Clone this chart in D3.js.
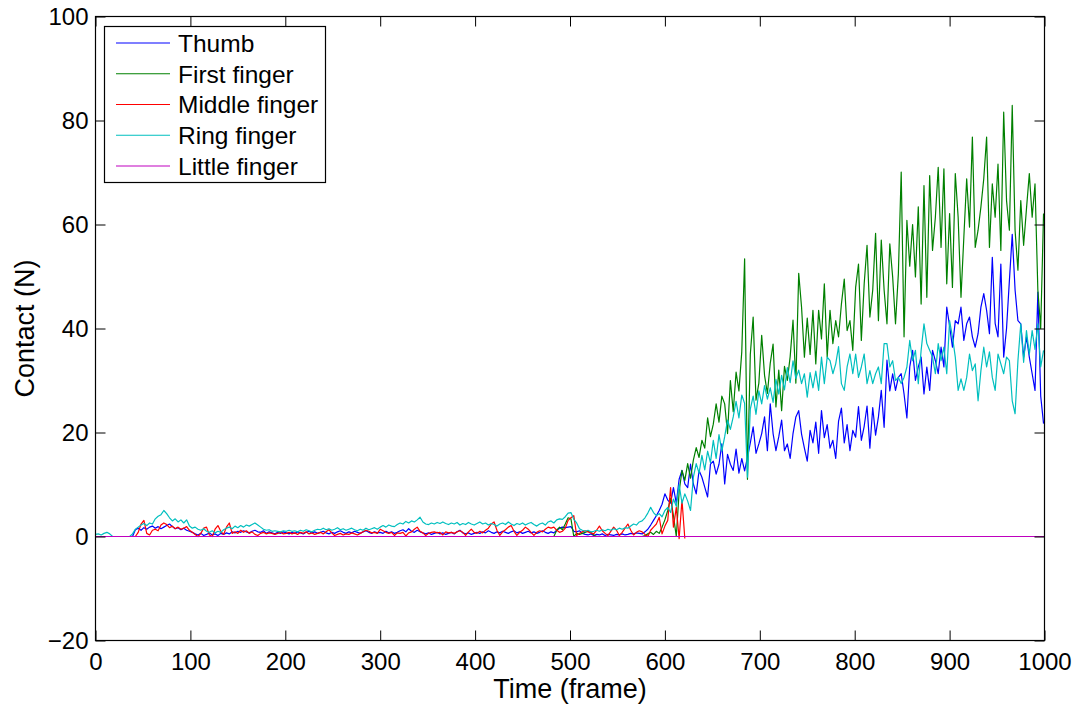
<!DOCTYPE html>
<html>
<head>
<meta charset="utf-8">
<script src="https://cdn.jsdelivr.net/npm/d3@7"></script>
<style>
  html, body { margin: 0; padding: 0; background: #fff; }
  svg { display: block; font-family: "Liberation Sans", Arial, Helvetica, sans-serif; }
</style>
</head>
<body>
<svg id="chart" width="1076" height="704"></svg>
<script>
// Contact force per finger, sampled every 3 frames.
const frameStep = 3;

const xTickValues = [0, 100, 200, 300, 400, 500, 600, 700, 800, 900, 1000];
const yTickValues = [-20, 0, 20, 40, 60, 80, 100];

const seriesNames = ["Thumb", "First finger", "Middle finger", "Ring finger", "Little finger"];
const seriesColors = ["#0000ff", "#008000", "#ff0000", "#00bfbf", "#bf00bf"];

// Thumb: frames 39 .. 999
const thumbStart = 39;
const thumb = [
  0,
  1.3, 1.6, 1.2, 1.7, 1.4, 1.8, 2.0, 1.6, 1.9, 1.5, 1.8, 2.1, 2.4, 1.9, 1.5, 1.7, 1.3, 1.6, 1.2, 1.0,
  0.8, 0.5, 0.3, 0.6, 0.2, 0.4, 0.7, 0.3, 0.5, 0.2, 0.6, 0.4, 0.7, 0.5, 0.9, 0.7, 1.0, 0.8, 1.1, 0.9,
  0.7, 1.0, 1.2, 0.9, 0.8, 1.1, 0.6, 0.9, 0.7, 0.5, 0.8, 0.6, 0.9,
  0.7, 0.5, 0.8, 0.6, 0.9, 0.7, 0.5, 0.8, 1.0, 0.7, 0.9, 0.6, 0.8, 1.0, 0.7, 0.5, 0.8, 0.6, 0.9, 1.1,
  0.8, 0.6, 0.9, 0.7, 1.0, 0.8, 0.6, 0.9, 1.1, 0.8, 0.6, 0.9, 0.7,
  0.8, 0.6, 1.0, 0.7, 0.9, 0.6, 0.8, 1.1, 1.3, 0.9, 1.5, 1.0, 0.8, 1.2, 0.9, 0.7, 0.5, 0.7, 0.4, 0.6,
  0.8, 0.5, 0.7, 0.4, 0.6, 0.8, 0.5, 0.9, 1.2, 0.7, 0.5, 0.7, 0.4, 0.6,
  0.8, 0.6, 0.9, 0.7, 1.1, 0.8, 0.6, 0.9, 0.7, 1.0, 0.8, 0.6, 0.9, 1.1, 0.7, 0.9, 0.6, 0.8, 1.0, 0.7,
  0.9, 0.6, 0.8, 1.1, 0.8, 0.6, 0.9, 0.7, 1.2, 1.6, 1.8, 1.7, 1.8,
  1.9, 1.0, 0.9, 1.1, 0.6, 0.4, 0.3, 0.5, 0.2, 0.4, 0.3, 0.5, 0.2, 0.4, 0.3, 0.2, 0.4, 0.3, 0.5, 0.3,
  0.4, 0.6, 0.5, 0.7, 0.6,
  0.5, 0.9, 1.4, 2.2, 3.1, 4.0, 5.0, 6.2, 8.2, 7.0, 6.4, 9.4, 6.4, 11.0, 12.7, 10.1, 9.4, 13.9, 10.1, 8.2,
  12.7, 11.4, 9.5, 7.6, 13.9, 14.5, 12.0, 13.9, 17.8, 10.1, 15.8, 13.9, 12.7, 16.8, 12.2, 15.0, 12.6, 15.2,
  18.0, 21.1, 16.0, 17.8, 19.8, 23.0, 16.5, 25.5, 19.8, 16.5, 19.2, 22.4, 16.5, 17.8, 15.0, 19.8, 23.0, 24.2,
  19.7, 17.0, 14.5, 20.4, 18.0, 22.0, 16.0, 24.2, 19.0, 21.5,
  17.0, 18.5, 15.0, 22.2, 24.7, 18.0, 21.5, 16.5, 20.4, 19.1,
  25.0, 18.5, 21.2, 25.1, 17.0, 24.8, 19.5, 23.0, 28.1, 21.0,
  33.9, 28.0, 31.3, 28.1, 30.6, 31.3, 27.4, 22.8, 32.6, 35.8,
  30.0, 32.6, 34.5, 27.4, 32.6, 28.1, 35.8, 33.8, 31.3, 36.4,
  32.6, 44.1, 40.5, 36.4, 41.5, 40.9, 44.1, 37.7, 40.9, 42.2,
  38.4, 36.4, 39.0, 44.1, 46.7, 43.5, 39.0, 53.7, 41.0, 38.4,
  52.4, 34.5, 40.0, 49.2, 58.1, 47.4, 41.5, 40.9, 34.5, 38.4,
  34.5, 31.3, 28.1, 47.0, 27.0, 21.7
];

// First finger: frames 480 .. 999
const firstFingerStart = 480;
const firstFinger = [
  0, 0, 1.2, 1.8, 1.3, 2.4, 3.6,
  3.4, 0, 0.6, 0.4, 0.6, 0.8, 1.0, 0.8, 0.3, 0, 0, 0, 0, 0, 0, 0, 0, 0, 0, 0, 0, 0, 0, 0, 0,
  0, 0.2, 0.5, 0.8, 0.4, 1.0, 0.6, 1.8, 3.2, 5.0, 7.4, 4.0, 0.0, 8.6, 12.7, 10.8, 14.0, 11.2, 14.7, 17.1,
  15.2, 18.5, 17.0, 22.8, 19.2, 21.6, 25.5, 22.0, 27.0, 25.5, 19.8, 30.0, 24.0, 31.6, 28.0, 35.5, 53.4, 11.0,
  35.0, 42.2, 26.2, 29.5, 38.7, 31.0, 27.5, 33.3, 37.0, 24.9, 32.0, 24.2, 32.7, 30.0, 34.6, 41.6, 29.5, 50.6,
  44.1, 34.5, 42.0, 35.0, 43.5, 33.2, 43.5, 38.0, 48.6, 34.5,
  43.5, 37.1, 41.5, 38.4, 44.7, 49.5, 39.6, 41.5, 35.8, 47.9,
  52.4, 37.7, 48.6, 56.0, 42.2, 47.4, 58.3, 41.5, 57.0, 47.4,
  40.9, 56.3, 49.9, 40.9, 50.5, 70.1, 38.4, 60.8, 52.0, 60.0,
  49.9, 63.4, 44.7, 67.5, 46.0, 69.4, 55.0, 61.4, 71.0, 55.6,
  70.7, 48.6, 62.1, 47.9, 69.8, 61.4, 46.0, 57.5, 68.8, 59.5,
  76.8, 55.6, 58.9, 63.4, 68.8, 76.8, 55.6, 67.8, 61.4, 71.6,
  55.0, 81.6, 64.6, 58.9, 82.9, 58.9, 51.2, 64.6, 56.0, 63.0,
  69.8, 61.4, 67.8, 47.4, 40.0, 62.1
];

// Middle finger: frames 42 .. 621
const middleFingerStart = 42;
const middleFinger = [
  0, 0.8, 2.4, 3.1, 0.6, 0.3, 1.2, 1.4, 1.1, 2.2, 2.6, 2.3, 1.7, 2.0, 1.5, 1.8, 1.4, 1.6, 1.9, 1.2,
  0.8, 0.4, 0.0, 0.6, 1.6, 1.8, 0.3, 0.0, 1.4, 2.1, 1.0, 0.4, 1.8, 2.6, 0.6, 0.9, 0.6, 1.2, 0.8, 1.1,
  0.6, 0.9, 0.4, 0.2, 0.6, 0.8, 0.5, 0.7, 0.6, 0.4, 0.6, 0.8, 0.5,
  0.6, 0.8, 0.5, 0.7, 0.4, 0.8, 0.6, 0.9, 0.5, 0.7, 0.4, 0.6, 0.8, 0.5, 0.9, 1.3, 0.7, 0.2, 0.4, 0.6,
  0.3, 0.5, 0.4, 0.7, 0.5, 0.3, 0.6, 0.9, 1.2, 1.0, 0.7, 0.8, 0.6,
  1.4, 1.1, 0.8, 0.6, 0.8, 0.2, 0.7, 0.6, 0.8, 0.1, 0.7, 0.9, 1.4, 1.8, 1.0, 0.7, 0.2, 0.6, 0.8, 0.9,
  0.7, 0.8, 0.3, 0.9, 0.7, 0.8, 0.6, 0.9, 1.1, 0.8, 0.2, 0.9, 1.4, 0.8,
  0.6, 1.0, 0.7, 1.2, 1.6, 2.4, 2.8, 1.2, 0.2, 0.9, 1.3, 1.8, 2.1, 1.0, 0.2, 0.8, 1.2, 1.8, 1.4, 0.8,
  0.2, 0.8, 1.1, 0.9, 1.4, 1.8, 1.6, 1.8, 1.2, 0.8, 1.0, 1.6, 3.1,
  3.6, 4.0, 0.2, 0.6, 0.9, 1.1, 0.9, 0.7, 0.5, 1.2, 2.0, 1.1, 0.6, 0.2, 1.0, 1.8, 1.2, 0.2, 0.8, 1.6,
  2.4, 1.2, 0.3, 0.8, 1.1,
  0.9, 0.4, 0.0, 1.2, 1.8, 2.4, 3.7, 0.5, 2.0, 3.1, 9.4, 1.8, 5.6, -0.4, 7.0, -0.4
];

// Ring finger: frames 0 .. 999
const ringFingerStart = 0;
const ringFinger = [
  0.4, 0.5, 0.3, 0.6, 0.8, 0.5, 0, 0, 0, 0, 0, 0, 0, 0.5,
  1.4, 1.8, 2.2, 2.5, 2.1, 2.6, 2.4, 3.4, 3.9, 4.2, 5.0, 4.4, 3.6, 3.0, 3.4, 2.8, 3.2, 2.6, 3.2, 2.0,
  1.6, 1.8, 1.4, 1.2, 1.5, 1.0, 0.8, 1.1, 0.7, 1.0, 0.8, 1.3, 1.6, 1.8, 1.5, 2.0, 1.7, 2.1, 1.8, 2.2,
  2.0, 2.3, 2.6, 2.2, 1.8, 1.4, 1.2, 1.3, 1.0, 1.1, 1.0, 0.9, 1.1,
  1.0, 1.2, 1.0, 1.1, 0.9, 1.2, 1.0, 1.3, 1.1, 0.9, 1.2, 1.4, 1.3, 1.6, 1.3, 1.5, 1.2, 1.4, 1.7, 1.3,
  1.5, 1.2, 1.4, 1.6, 1.3, 1.1, 1.4, 1.2, 1.6, 1.3, 1.5, 1.7, 1.4,
  1.8, 2.1, 1.8, 2.2, 2.0, 1.9, 2.3, 2.6, 2.4, 2.9, 2.6, 3.0, 2.8, 3.2, 3.7, 2.8, 2.4, 2.3, 2.6, 2.4,
  2.7, 2.5, 2.8, 2.5, 2.3, 2.6, 2.4, 2.7, 2.2, 2.5, 2.3, 2.7, 2.4, 2.2,
  2.5, 2.8, 2.4, 2.6, 2.2, 2.5, 2.3, 2.0, 2.4, 2.6, 2.3, 2.8, 2.4, 2.1, 2.5, 2.3, 2.6, 2.2, 2.5, 2.7,
  2.3, 2.0, 2.4, 2.6, 2.2, 2.8, 3.0, 2.6, 3.2, 3.4, 3.3, 3.8, 4.5,
  4.6, 3.3, 2.6, 1.5, 1.2, 1.0, 1.2, 0.9, 1.0, 1.2, 1.0, 1.3, 1.1, 1.4, 1.2, 1.5, 1.3, 1.6, 1.4, 1.7,
  1.6, 2.0, 2.4, 2.2, 2.8,
  3.0, 3.6, 4.5, 5.6, 4.6, 4.0, 4.4, 3.8, 5.0, 5.6, 4.6, 7.2, 5.8, 10.0, 6.4, 8.2, 6.8, 5.0, 11.4, 14.0,
  12.2, 15.6, 12.8, 16.4, 14.2, 18.5, 15.0, 19.6, 16.4, 19.2, 22.4, 20.6, 23.0, 26.0, 22.8, 27.2, 25.6, 11.4,
  24.5, 27.0, 23.5, 28.0, 25.5, 29.0, 26.4, 28.6, 25.8, 30.2, 27.4, 31.0, 28.2, 32.5, 29.6, 33.8, 30.4, 32.0,
  29.4, 31.3, 26.8, 31.5, 28.6, 31.8, 28.1, 34.5, 29.4, 34.5,
  33.8, 31.3, 33.2, 36.5, 29.4, 28.1, 32.6, 35.1, 31.3, 35.1,
  30.6, 32.6, 35.1, 29.4, 31.9, 29.4, 31.3, 32.6, 29.4, 37.1,
  37.1, 32.6, 33.8, 30.0, 30.6, 29.4, 30.6, 32.6, 37.7, 33.8,
  35.8, 29.4, 35.8, 40.9, 37.1, 35.8, 34.5, 31.3, 37.1, 33.8,
  36.4, 31.3, 41.5, 38.4, 34.5, 28.1, 30.3, 28.1, 30.6, 35.1,
  31.9, 33.2, 26.1, 31.9, 36.4, 32.6, 35.5, 30.6, 28.1, 35.1,
  33.2, 31.3, 34.5, 33.8, 26.1, 23.6, 33.8, 40.9, 33.5, 39.6,
  35.0, 39.6, 36.0, 40.9, 32.6, 35.8
];

// Little finger: no contact over the whole recording
const littleFingerFrames = [0, 1000];
const littleFinger = [0, 0];

// ---- layout ----
const W = 1076, H = 704;
const margin = { top: 16.5, right: 31.5, bottom: 63.5, left: 95.5 };

const x = d3.scaleLinear().domain([0, 1000]).range([margin.left, W - margin.right]);
const y = d3.scaleLinear().domain([-20, 100]).range([H - margin.bottom, margin.top]);

const svg = d3.select("#chart");

svg.append("rect").attr("width", W).attr("height", H).attr("fill", "#fff");

svg.append("defs").append("clipPath").attr("id", "plot-clip")
  .append("rect")
  .attr("x", x(0)).attr("y", y(100))
  .attr("width", x(1000) - x(0)).attr("height", y(-20) - y(100));

function toPoints(start, values) {
  return values.map((v, i) => [start + i * frameStep, v]);
}

const seriesData = [
  toPoints(thumbStart, thumb),
  toPoints(firstFingerStart, firstFinger),
  toPoints(middleFingerStart, middleFinger),
  toPoints(ringFingerStart, ringFinger),
  littleFingerFrames.map((f, i) => [f, littleFinger[i]])
];

const line = d3.line().x(d => x(d[0])).y(d => y(d[1]));

const plot = svg.append("g").attr("clip-path", "url(#plot-clip)");
seriesData.forEach((pts, i) => {
  plot.append("path")
    .datum(pts)
    .attr("fill", "none")
    .attr("stroke", seriesColors[i])
    .attr("stroke-width", 1.2)
    .attr("stroke-linejoin", "round")
    .attr("d", line);
});

// ---- axes: inward ticks on all four sides ----
const tickFont = 24;
const tickLen = 10;

function styleAxis(g) {
  g.select(".domain").remove();
  g.selectAll(".tick line").attr("stroke", "#000").attr("stroke-width", 1);
  g.selectAll(".tick text").attr("fill", "#000").attr("font-size", tickFont)
    .attr("font-family", "Liberation Sans, Arial, sans-serif");
}

svg.append("g")
  .attr("transform", `translate(0,${y(-20)})`)
  .call(d3.axisBottom(x).tickValues(xTickValues).tickSize(-tickLen).tickPadding(12).tickFormat(d3.format("d")))
  .call(styleAxis);

svg.append("g")
  .attr("transform", `translate(0,${y(100)})`)
  .call(d3.axisTop(x).tickValues(xTickValues).tickSize(-tickLen).tickFormat(""))
  .call(styleAxis);

svg.append("g")
  .attr("transform", `translate(${x(0)},0)`)
  .call(d3.axisLeft(y).tickValues(yTickValues).tickSize(-tickLen).tickPadding(7).tickFormat(d3.format("d")))
  .call(styleAxis);

svg.append("g")
  .attr("transform", `translate(${x(1000)},0)`)
  .call(d3.axisRight(y).tickValues(yTickValues).tickSize(-tickLen).tickFormat(""))
  .call(styleAxis);

svg.append("rect")
  .attr("x", x(0)).attr("y", y(100))
  .attr("width", x(1000) - x(0)).attr("height", y(-20) - y(100))
  .attr("fill", "none").attr("stroke", "#000").attr("stroke-width", 1.2);

// ---- axis titles ----
svg.append("text")
  .attr("x", (x(0) + x(1000)) / 2).attr("y", 698)
  .attr("text-anchor", "middle").attr("font-size", 27).attr("fill", "#000")
  .text("Time (frame)");

svg.append("text")
  .attr("transform", `translate(34,${(y(100) + y(-20)) / 2}) rotate(-90)`)
  .attr("text-anchor", "middle").attr("font-size", 27).attr("fill", "#000")
  .text("Contact (N)");

// ---- legend ----
const legend = svg.append("g");
legend.append("rect")
  .attr("x", 104.5).attr("y", 26.5).attr("width", 221).attr("height", 156)
  .attr("fill", "#fff").attr("stroke", "#000").attr("stroke-width", 1.2);

seriesNames.forEach((name, i) => {
  const cy = 43 + i * 30.75;
  legend.append("line")
    .attr("x1", 116).attr("x2", 170).attr("y1", cy).attr("y2", cy)
    .attr("stroke", seriesColors[i]).attr("stroke-width", 1.2);
  legend.append("text")
    .attr("x", 178).attr("y", cy).attr("dy", "0.36em")
    .attr("font-size", 24.5).attr("fill", "#000")
    .text(name);
});
</script>
</body>
</html>
